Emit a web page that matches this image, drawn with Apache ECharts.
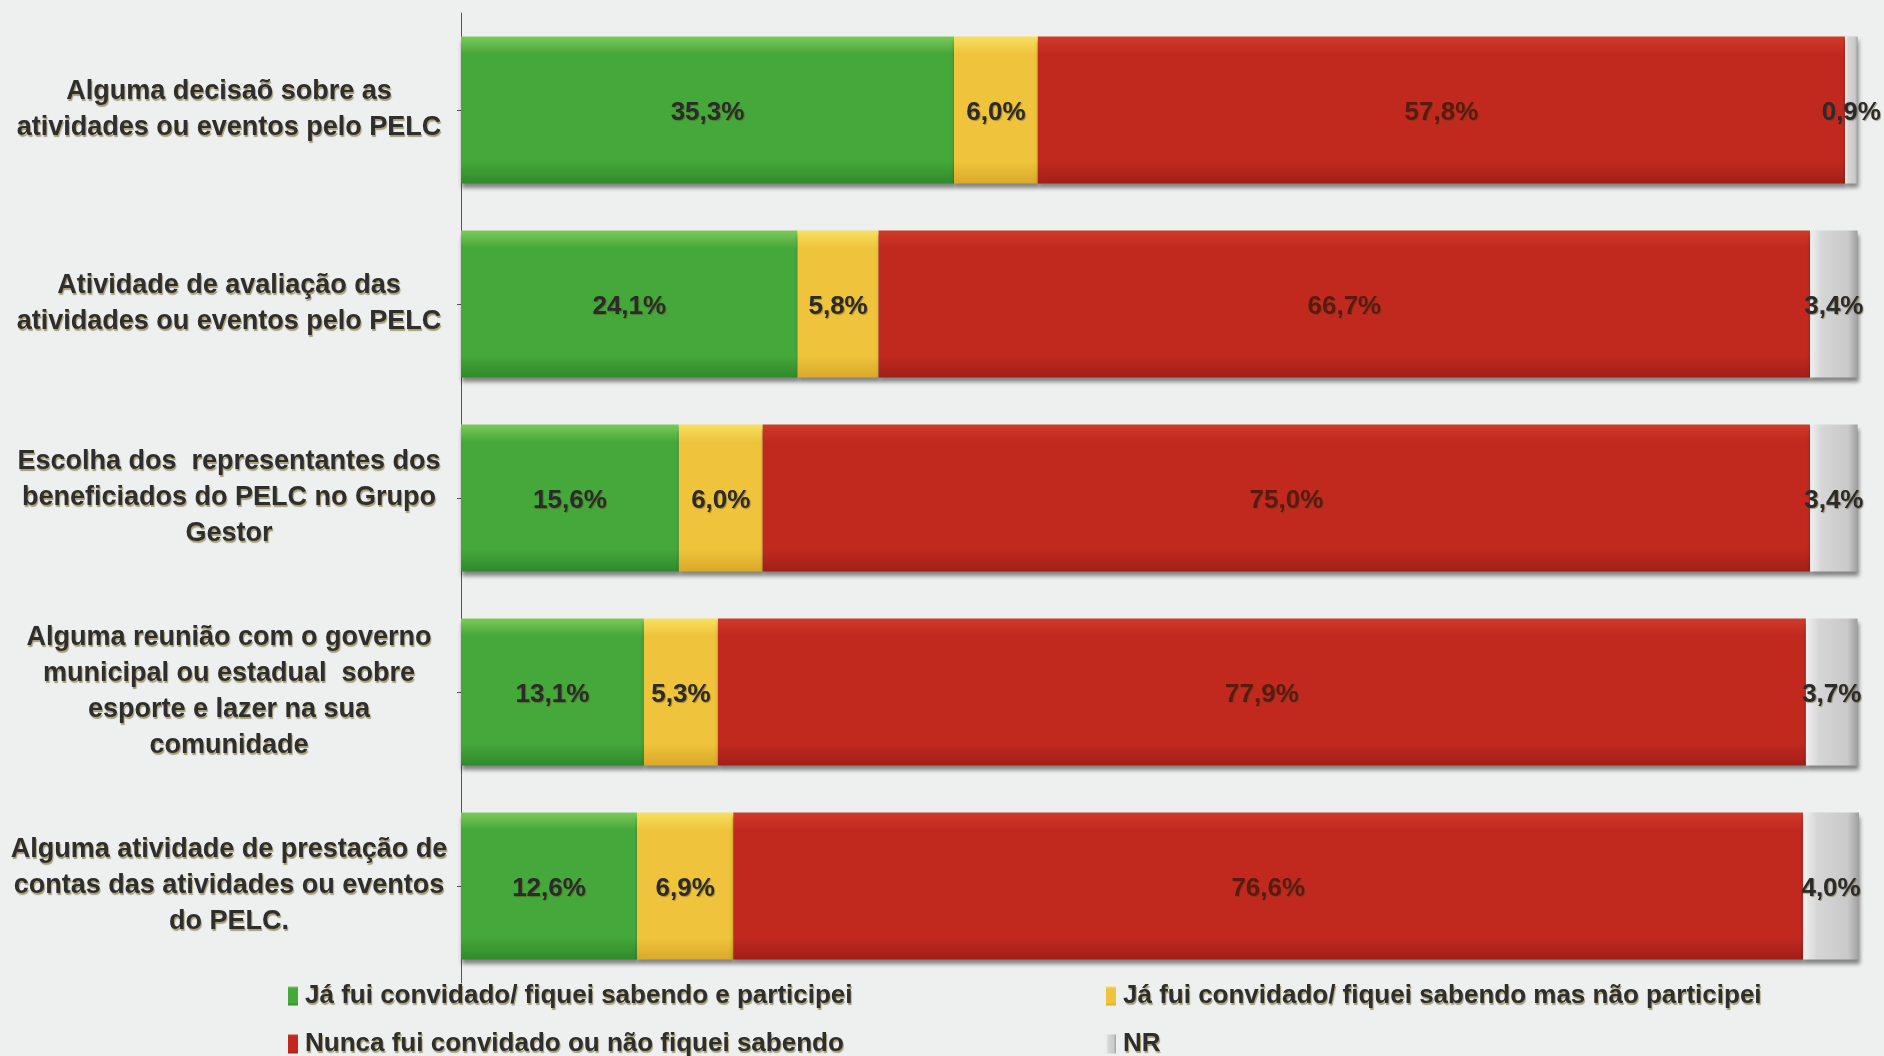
<!DOCTYPE html>
<html>
<head>
<meta charset="utf-8">
<script src="https://cdn.jsdelivr.net/npm/echarts@6/dist/echarts.min.js"></script>
<style>
html,body{margin:0;padding:0;background:#eef0ef;}
#chart{width:1884px;height:1056px;}
</style>
</head>
<body>
<div id="chart"></div>
<script>
const categories = [
  "Alguma decisaõ sobre as\natividades ou eventos pelo PELC",
  "Atividade de avaliação das\natividades ou eventos pelo PELC",
  "Escolha dos  representantes dos\nbeneficiados do PELC no Grupo\nGestor",
  "Alguma reunião com o governo\nmunicipal ou estadual  sobre\nesporte e lazer na sua\ncomunidade",
  "Alguma atividade de prestação de\ncontas das atividades ou eventos\ndo PELC."
];
const seriesNames = [
  "Já fui convidado/ fiquei sabendo e participei",
  "Já fui convidado/ fiquei sabendo mas não participei",
  "Nunca fui convidado ou não fiquei sabendo",
  "NR"
];
const participei = [35.3, 24.1, 15.6, 13.1, 12.6];
const naoParticipei = [6.0, 5.8, 6.0, 5.3, 6.9];
const nunca = [57.8, 66.7, 75.0, 77.9, 76.6];
const nr = [0.9, 3.4, 3.4, 3.7, 4.0];

const FONT = "'Liberation Sans Narrow','Arial Narrow','Liberation Sans',sans-serif";
const shadowText = {
  textShadowColor: 'rgba(110,90,20,0.55)',
  textShadowOffsetX: 1,
  textShadowOffsetY: 2,
  textShadowBlur: 1
};
function grad(top, mid, bot) {
  return new echarts.graphic.LinearGradient(0, 0, 0, 1, [
    {offset: 0, color: top},
    {offset: 0.12, color: mid},
    {offset: 0.85, color: mid},
    {offset: 1, color: bot}
  ]);
}
const colors = [
  grad('#7cc95a', '#45a83a', '#2f8a2b'),
  grad('#f7e060', '#efc43c', '#d9a92a'),
  grad('#cf3a2a', '#c1291f', '#a11f18'),
  new echarts.graphic.LinearGradient(0, 0, 1, 0, [
    {offset: 0, color: '#f0f0f0'},
    {offset: 0.25, color: '#d6d6d6'},
    {offset: 0.8, color: '#c9c9c9'},
    {offset: 1, color: '#9e9e9e'}
  ])
];
const legendColors = ['#3aa13a', '#eec53a', '#c1291f', '#bdbdbd'];
const values = [participei, naoParticipei, nunca, nr];

const chart = echarts.init(document.getElementById('chart'));
const fmt = p => p.value.toFixed(1).replace('.', ',') + '%';

const legendPos = [
  {left: 283, top: 978},
  {left: 1101, top: 978},
  {left: 283, top: 1026},
  {left: 1101, top: 1026}
];

chart.setOption({
  backgroundColor: '#eef0ef',
  animation: false,
  color: legendColors,
  grid: {left: 461, right: 25, top: 13, height: 970},
  legend: seriesNames.map((n, i) => ({
    data: [n],
    left: legendPos[i].left,
    top: legendPos[i].top,
    orient: 'horizontal',
    icon: 'rect',
    itemWidth: 10,
    itemHeight: 19,
    itemGap: 0,
    textStyle: Object.assign({
      fontFamily: FONT, fontWeight: 'bold', fontSize: 26, color: '#2e2e2e', padding: [0, 0, 0, 2]
    }, shadowText)
  })),
  xAxis: {type: 'value', min: 0, max: 100.1, show: false},
  yAxis: {
    type: 'category',
    data: categories,
    inverse: true,
    axisLine: {show: true, lineStyle: {color: '#555', width: 1}},
    axisTick: {show: true, alignWithLabel: true, length: 4, lineStyle: {color: '#555'}},
    axisLabel: Object.assign({
      fontFamily: FONT, fontWeight: 'bold', fontSize: 27, color: '#2e2e2e',
      align: 'center', margin: 232, lineHeight: 36
    }, shadowText)
  },
  series: values.map((v, i) => ({
    name: seriesNames[i],
    type: 'bar',
    stack: 'total',
    data: v,
    barWidth: 147,
    itemStyle: {
      color: colors[i],
      shadowColor: 'rgba(0,0,0,0.45)',
      shadowBlur: 4,
      shadowOffsetY: 4,
      shadowOffsetX: 1
    },
    label: {
      show: true,
      position: 'inside',
      offset: [0, 3],
      formatter: fmt,
      fontFamily: FONT, fontWeight: 'bold', fontSize: 26,
      color: i === 2 ? '#5a1a10' : '#2b2b2b',
      textShadowColor: 'rgba(80,60,10,0.45)',
      textShadowOffsetX: 1,
      textShadowOffsetY: 1,
      textShadowBlur: 1
    }
  }))
});
</script>
</body>
</html>
